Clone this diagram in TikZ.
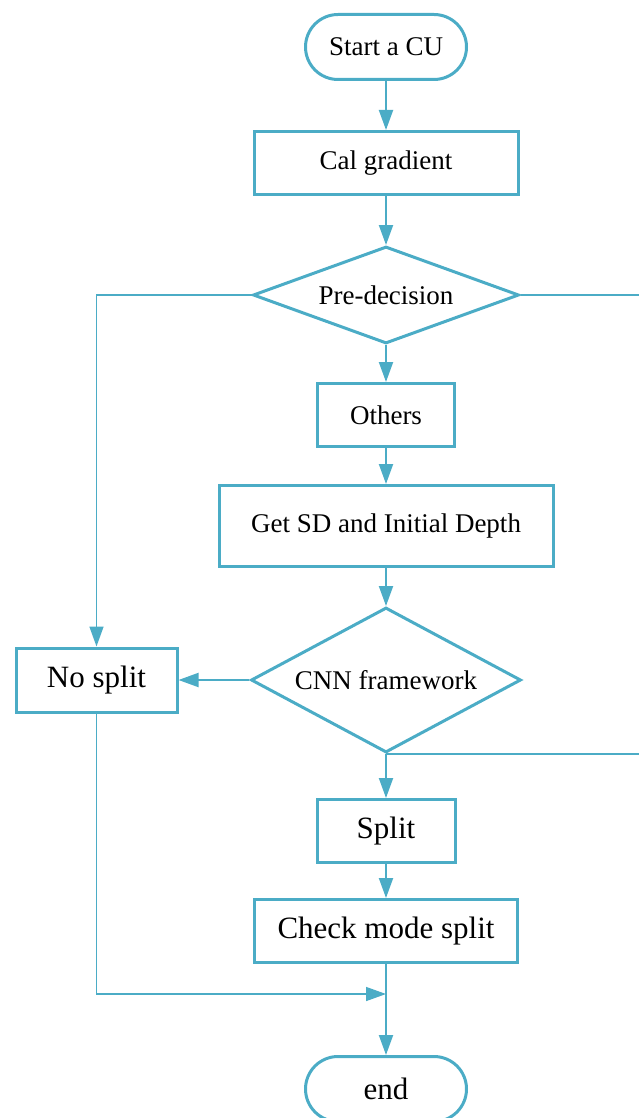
\documentclass[tikz,border=0pt]{standalone}
\usepackage{fontspec}
\setmainfont{Liberation Serif}
\usetikzlibrary{positioning,arrows.meta,shapes.geometric}
\definecolor{flowblue}{RGB}{75,172,198}

\begin{document}
\begin{tikzpicture}[->,>={Triangle[length=20pt,width=14pt]},
   every node/.style={font=\fontsize{27}{32}\selectfont},
   proc/.style={draw=flowblue,line width=3pt,minimum height=63pt,inner sep=0pt},
   term/.style={draw=flowblue,line width=3pt,rounded corners=32.5pt,
     minimum width=161pt,minimum height=65pt},
   decision/.style={diamond,draw=flowblue,line width=3pt,inner sep=0pt},
   big/.style={font=\fontsize{31}{36}\selectfont},
   link/.style={color=flowblue,line width=2pt},
   wire/.style={color=flowblue,line width=1.5pt}]
  \useasboundingbox (0,0) rectangle (639pt,-1118pt);
  \coordinate (edge) at (639pt,0);
  \node[term] (start) at (386pt,-47pt) {Start a CU};
  \node[proc,minimum width=264pt] (cal) [below=49pt of start] {Cal gradient};
  \node[decision,minimum width=266pt,minimum height=97pt,aspect=2.74] (pre)
    [below=49pt of cal] {Pre-decision};
  \node[proc,minimum width=137pt] (others) [below=37pt of pre] {Others};
  \node[proc,minimum width=334pt,minimum height=81pt] (sd)
    [below=36pt of others] {Get SD and Initial Depth};
  \node[decision,minimum width=270pt,minimum height=145pt,aspect=1.86] (cnn)
    [below=38pt of sd] {CNN framework};
  \node[proc,big,minimum width=161pt,minimum height=64pt] (nosplit)
    [left=71pt of cnn] {No split};
  \node[proc,big,minimum width=138pt] (split) [below=44pt of cnn] {Split};
  \node[proc,big,minimum width=263pt] (check) [below=34pt of split] {Check mode split};
  \node[term,big] (finish) [below=91pt of check] {end};
  \coordinate (join) at ([yshift=-30pt]check.south);
  % main flow
  \path[link]
   (start) edge (cal)
   (cal) edge (pre)
   (pre) edge (others)
   (others) edge (sd)
   (sd) edge (cnn)
   (cnn) edge (nosplit)
   (cnn) edge (split)
   (split) edge (check)
   (check) edge (finish);
  % side branches
  \draw[wire] (pre.west) -| (nosplit.north);
  \draw[wire] (nosplit.south) |- (join);
  \draw[wire,-] (pre.east) -- (pre.east -| edge);
  \draw[wire,-] (cnn.south) -- (cnn.south -| edge);
\end{tikzpicture}
\end{document}
